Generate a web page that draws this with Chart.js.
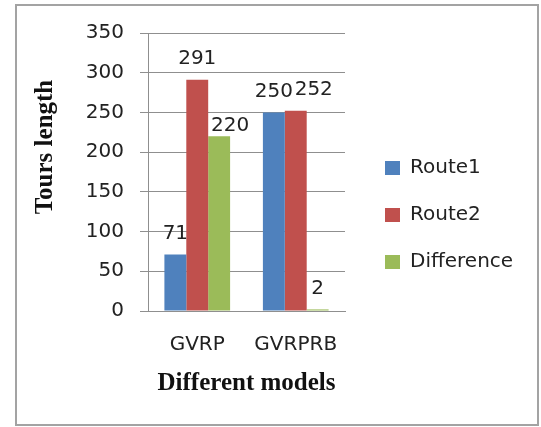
<!DOCTYPE html>
<html>
<head>
<meta charset="utf-8">
<script src="https://cdn.jsdelivr.net/npm/chart.js@4"></script>
<style>
    html, body { margin: 0; padding: 0; background: #fff; }
    #wrap { position: relative; width: 541px; height: 427px; }
    #frame {
        position: absolute; left: 15px; top: 4px; width: 520px; height: 418px;
        border: 2px solid #a3a3a3;
    }
    #grafico { position: absolute; left: 0; top: 0; }
</style>
</head>
<body>
<div id="wrap">
    <div id="frame"></div>
    <canvas id="grafico" width="541" height="427"></canvas>
</div>
<script>
const categorias = ["GVRP", "GVRPRB"];
const route1 = [71, 250];
const route2 = [291, 252];
const difference = [220, 2];
const yTicks = [0, 50, 100, 150, 200, 250, 300, 350];

const fonte = "'DejaVu Sans', sans-serif";
const fonteTitulo = "'Liberation Serif', 'Times New Roman', serif";

// small nudges for the value labels that Excel had moved aside
const ajusteRotulos = { "2-0": [11, 11], "1-1": [18, 0] };

const rotulosValores = {
    id: "rotulosValores",
    afterDatasetsDraw(chart) {
        const ctx = chart.ctx;
        ctx.save();
        ctx.font = "20px " + fonte;
        ctx.fillStyle = "#222";
        ctx.textAlign = "center";
        ctx.textBaseline = "middle";
        chart.data.datasets.forEach(function (ds, i) {
            chart.getDatasetMeta(i).data.forEach(function (bar, j) {
                const aj = ajusteRotulos[i + "-" + j] || [0, 0];
                ctx.fillText(String(ds.data[j]), bar.x + aj[0], bar.y - 21 + aj[1]);
            });
        });
        ctx.restore();
    }
};

const ajusteLegenda = {
    id: "ajusteLegenda",
    beforeLayout(chart) {
        const lg = chart.legend;
        if (lg && !lg._fixo) {
            const fit = lg.fit.bind(lg);
            lg.fit = function () { fit(); this.width = 196; };
            lg._fixo = true;
        }
    },
    afterLayout(chart) {
        const lg = chart.legend;
        lg.left += 13; lg.right += 13;
        lg.top -= 15; lg.bottom -= 15;
    }
};

new Chart(document.getElementById("grafico"), {
    type: "bar",
    data: {
        labels: categorias,
        datasets: [
            { label: "Route1", data: route1, backgroundColor: "#4F81BD" },
            { label: "Route2", data: route2, backgroundColor: "#C0504D" },
            { label: "Difference", data: difference, backgroundColor: "#9BBB59" }
        ]
    },
    options: {
        responsive: false,
        animation: false,
        layout: { padding: { top: 33, left: 0, right: 0, bottom: 0 } },
        datasets: { bar: { categoryPercentage: 0.667, barPercentage: 1 } },
        scales: {
            x: {
                grid: { display: false, drawTicks: false },
                border: { display: true, color: "#8f8f8f" },
                ticks: { font: { family: fonte, size: 20 }, color: "#222", padding: 22 },
                title: {
                    display: true, text: "Different models", color: "#111",
                    font: { family: fonteTitulo, size: 25, weight: "bold" },
                    padding: { top: 0, bottom: 28 }
                },
                afterFit(scale) { scale.height = 116; }
            },
            y: {
                min: 0, max: 350,
                afterBuildTicks(scale) { scale.ticks = yTicks.map(v => ({ value: v })); },
                grid: { color: "#8f8f8f", tickLength: 8 },
                border: { color: "#8f8f8f" },
                ticks: { font: { family: fonte, size: 20 }, color: "#222", padding: 16 },
                title: {
                    display: true, text: "\u00a0".repeat(8) + "Tours length", color: "#111",
                    font: { family: fonteTitulo, size: 25, weight: "bold" },
                    padding: { top: 31, bottom: 0 }
                },
                afterFit(scale) { scale.width = 148; }
            }
        },
        plugins: {
            legend: {
                position: "right",
                labels: {
                    boxWidth: 15, boxHeight: 14, padding: 27,
                    font: { family: fonte, size: 20 }, color: "#222"
                }
            },
            tooltip: { enabled: false }
        }
    },
    plugins: [rotulosValores, ajusteLegenda]
});
</script>
</body>
</html>
